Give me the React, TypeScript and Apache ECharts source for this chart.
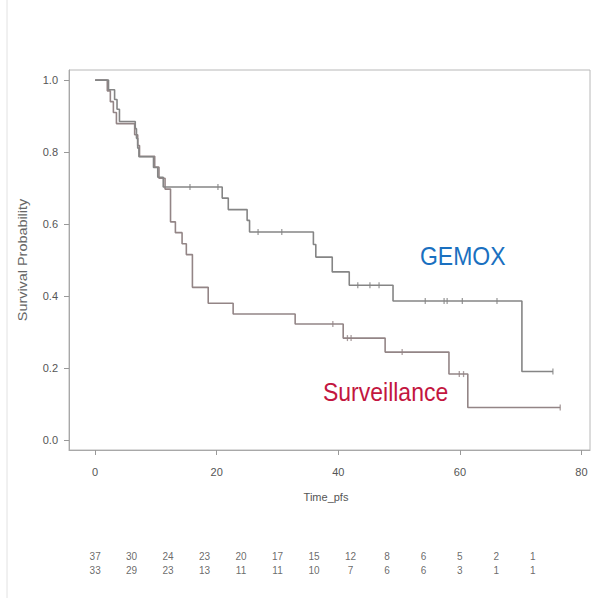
import React, { useEffect, useRef } from "react";
import * as echarts from "echarts";

// Kaplan-Meier step data: time at which survival becomes the given value
const gemoxTimes = [0, 2.2, 3.2, 3.6, 4.0, 6.6, 6.8, 7.0, 7.2, 9.6, 10.3, 11.2, 20.9, 21.9, 25.0, 25.4, 35.9, 36.3, 39.0, 41.8, 49.0, 70.2, 75.3];
const gemoxSurv = [1.0, 0.973, 0.946, 0.919, 0.885, 0.865, 0.838, 0.811, 0.787, 0.757, 0.73, 0.703, 0.672, 0.64, 0.61, 0.578, 0.543, 0.508, 0.467, 0.43, 0.386, 0.19, 0.19];
const gemoxCensor = [15.6, 20.2, 26.8, 30.7, 43.2, 45.2, 46.7, 54.3, 57.4, 57.9, 60.4, 66.1, 75.3];

const survTimes = [0, 2.0, 2.5, 3.0, 3.5, 6.5, 7.0, 7.3, 9.8, 10.5, 11.5, 12.4, 13.2, 14.3, 15.0, 16.0, 18.6, 22.7, 32.9, 40.8, 47.7, 58.2, 61.3, 76.5];
const survSurv = [1.0, 0.97, 0.94, 0.91, 0.879, 0.848, 0.818, 0.788, 0.758, 0.727, 0.697, 0.606, 0.576, 0.545, 0.515, 0.424, 0.38, 0.35, 0.322, 0.283, 0.244, 0.183, 0.09, 0.09];
const survCensor = [39.1, 41.5, 42.1, 50.5, 59.9, 60.6, 76.5];

const xTicks = [0, 20, 40, 60, 80];
const yTicks = [0, 0.2, 0.4, 0.6, 0.8, 1.0];

const riskTimes = [0, 6, 12, 18, 24, 30, 36, 42, 48, 54, 60, 66, 72];
const gemoxRisk = [37, 30, 24, 23, 20, 17, 15, 12, 8, 6, 5, 2, 1];
const survRisk = [33, 29, 23, 13, 11, 11, 10, 7, 6, 6, 3, 1, 1];
const riskRows = ["GEMOX", "Surveillance"];

const X_MIN = -4.3;
const X_MAX = 81.4;

function survAt(times: number[], surv: number[], t: number) {
  let v = surv[0];
  for (let i = 0; i < times.length; i++) {
    if (times[i] <= t) v = surv[i];
  }
  return v;
}

export default function App() {
  const ref = useRef<HTMLDivElement>(null);
  useEffect(() => {
    if (!ref.current) return;
    const chart = echarts.init(ref.current, undefined, { renderer: "svg" });
    const font = "Liberation Sans, Arial, sans-serif";
    const gemoxLine = gemoxTimes.map((t, i) => [t, gemoxSurv[i]]);
    const survLine = survTimes.map((t, i) => [t, survSurv[i]]);
    const gemoxC = gemoxCensor.map((t) => [t, survAt(gemoxTimes, gemoxSurv, t)]);
    const survC = survCensor.map((t) => [t, survAt(survTimes, survSurv, t)]);
    const riskData: any[] = [];
    riskTimes.forEach((t, i) => {
      riskData.push({ value: [t, riskRows[0]], label: { formatter: String(gemoxRisk[i]) } });
      riskData.push({ value: [t, riskRows[1]], label: { formatter: String(survRisk[i]) } });
    });
    const gemoxColor = "#858585";
    const survColor = "#938586";
    chart.setOption({
      animation: false,
      backgroundColor: "#ffffff",
      textStyle: { fontFamily: font },
      grid: [
        { left: 69, top: 70, width: 521, height: 380, show: true, borderColor: "#b8b8b8", borderWidth: 1, containLabel: false },
        { left: 69, top: 549, width: 521, height: 28, show: false },
      ],
      xAxis: [
        {
          type: "value",
          gridIndex: 0,
          min: X_MIN,
          max: X_MAX,
          axisLine: { show: true, onZero: false, lineStyle: { color: "#a8a8a8", width: 1 } },
          axisTick: { show: true, customValues: xTicks, length: 5, lineStyle: { color: "#999" } },
          axisLabel: { show: true, customValues: xTicks, color: "#555", fontSize: 11, margin: 16, fontFamily: font },
          splitLine: { show: false },
        },
        {
          type: "value",
          gridIndex: 1,
          min: X_MIN,
          max: X_MAX,
          show: false,
        },
      ],
      yAxis: [
        {
          type: "value",
          gridIndex: 0,
          min: -0.028,
          max: 1.028,
          axisLine: { show: true, onZero: false, lineStyle: { color: "#a8a8a8", width: 1 } },
          axisTick: { show: true, customValues: yTicks, length: 5, lineStyle: { color: "#999" } },
          axisLabel: {
            show: true,
            customValues: yTicks,
            color: "#555",
            fontSize: 11,
            margin: 11,
            fontFamily: font,
            formatter: (v: number) => v.toFixed(1),
          },
          splitLine: { show: false },
        },
        {
          type: "category",
          gridIndex: 1,
          data: riskRows,
          inverse: true,
          show: false,
        },
      ],
      series: [
        {
          type: "line",
          name: "GEMOX",
          data: gemoxLine,
          step: "end",
          showSymbol: false,
          lineStyle: { color: gemoxColor, width: 1.6 },
          z: 3,
        },
        {
          type: "line",
          name: "Surveillance",
          data: survLine,
          step: "end",
          showSymbol: false,
          lineStyle: { color: survColor, width: 1.6 },
          z: 2,
        },
        {
          type: "scatter",
          data: gemoxC,
          symbol: "rect",
          symbolSize: [1.3, 6],
          itemStyle: { color: gemoxColor },
          z: 4,
        },
        {
          type: "scatter",
          data: survC,
          symbol: "rect",
          symbolSize: [1.3, 6],
          itemStyle: { color: survColor },
          z: 4,
        },
        {
          type: "scatter",
          xAxisIndex: 1,
          yAxisIndex: 1,
          data: riskData,
          symbolSize: 0,
          label: {
            show: true,
            position: "inside",
            color: "#444",
            fontSize: 10,
            fontFamily: font,
          },
        },
      ],
      graphic: [
        {
          type: "line",
          shape: { x1: 7, y1: 0, x2: 7, y2: 598 },
          style: { stroke: "#e2e2e2", lineWidth: 1 },
        },
        {
          type: "text",
          x: 420,
          y: 256,
          scaleY: 1.1,
          style: {
            text: "GEMOX",
            fill: "#1a70c0",
            fontSize: 23,
            fontFamily: font,
            textAlign: "left",
            textVerticalAlign: "middle",
          },
        },
        {
          type: "text",
          x: 323,
          y: 392,
          scaleY: 1.1,
          style: {
            text: "Surveillance",
            fill: "#c3163f",
            fontSize: 23,
            fontFamily: font,
            textAlign: "left",
            textVerticalAlign: "middle",
          },
        },
        {
          type: "text",
          x: 23,
          y: 260,
          rotation: Math.PI / 2,
          scaleX: 1.2,
          style: {
            text: "Survival Probability",
            fill: "#666",
            fontSize: 12,
            fontFamily: font,
            textAlign: "center",
            textVerticalAlign: "middle",
          },
        },
        {
          type: "text",
          x: 326,
          y: 497,
          style: {
            text: "Time_pfs",
            fill: "#555",
            fontSize: 11,
            fontFamily: font,
            textAlign: "center",
            textVerticalAlign: "middle",
          },
        },
      ],
    });
    return () => chart.dispose();
  }, []);
  return (
    <div
      ref={ref}
      style={{ position: "fixed", left: 0, top: 0, width: 598, height: 598, background: "#fff" }}
    />
  );
}
